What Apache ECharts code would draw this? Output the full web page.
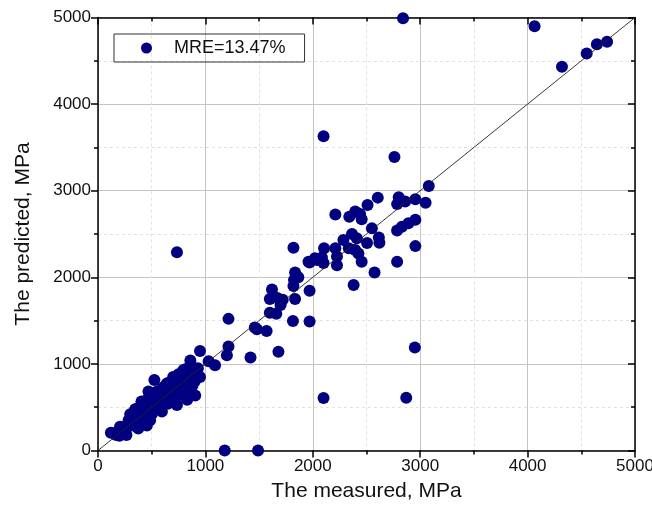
<!DOCTYPE html>
<html>
<head>
<meta charset="utf-8">
<script src="https://cdn.jsdelivr.net/npm/echarts@6/dist/echarts.min.js"></script>
<style>
html,body{margin:0;padding:0;background:#fff;}
#chart{width:652px;height:516px;}
</style>
</head>
<body>
<div id="chart"></div>
<script>
// Measured values (MPa)
const measured = [
  2840,4065,4320,4550,4645,4740,
  2100,2760,735,1180,1490,2100,2870,2950,
  3080,3050,2955,2800,2860,2785,2605,2510,2210,2340,2395,2440,2455,2955,2890,2830,2785,2550,2615,2620,2955,2785,2575,2455,2380,2505,2410,2365,2285,2210,2225,2335,2395,2425,2105,2020,1960,2100,2225,2040,2085,
  1215,1030,1090,1215,1200,1420,1460,1480,1570,1680,1600,1660,1600,1670,1700,1620,1720,1820,1835,1815,1970,1970,1835,1865,1825,1970,1820,
  950,860,525,905,455,120,265,950,
  795,735,640,470,405,345,285,205,
  830,735,595,485,375,
  150,180,200,230,250,280,300,320,340,360,380,400,410,420,440,450,470,480,500,500,520,540,550,560,580,600,600,620,640,650,660,680,700,700,720,740,750,760,780,800,800,820,840,850,870,880,900,920,760,680,620,560,430,380,330,480,520,580,640,700,900,930,860,720,660,550,440,350,260,170,
  300,350,400,450,500,550,600,650,700,750,820,350,420,500,580,650,700,780,850,880,200,240,620,560,760
];
// Predicted values (MPa)
const predicted = [
  4990,4900,4430,4585,4690,4720,
  3630,3390,2290,0,0,605,610,1190,
  3055,2860,2900,2925,2875,2845,2920,2835,2725,2700,2760,2730,2670,2665,2625,2585,2540,2565,2460,2400,2360,2180,2055,2180,1910,2395,2450,2500,2430,2335,2240,2335,2315,2275,2335,2220,2180,2165,2140,2200,2230,
  1520,1030,985,1200,1100,1075,1420,1400,1380,1140,1590,1580,1750,1760,1680,1860,1740,1900,1750,1495,1490,1845,2055,2000,1970,2170,2340,
  1150,1040,815,635,290,205,180,850,
  930,855,755,680,565,470,350,275,
  585,525,450,350,255,
  200,215,230,240,270,300,320,300,380,340,410,430,380,460,480,420,500,530,470,560,560,510,600,580,620,550,660,690,610,710,650,730,670,760,700,790,710,810,750,860,690,880,790,910,840,960,890,870,640,590,540,500,510,450,410,600,640,690,770,820,800,950,760,620,580,480,400,330,240,180,
  420,480,520,580,620,680,720,780,850,880,940,280,350,420,480,540,600,650,700,750,170,210,740,660,880
];
const seriesName = 'MRE=13.47%';
const xTitle = 'The measured, MPa';
const yTitle = 'The predicted, MPa';
const axisMin = 0, axisMax = 5000, axisStep = 1000;

const points = measured.map((m, i) => [m, predicted[i]]);
const FONT = 'Liberation Sans, Arial, sans-serif';

const chart = echarts.init(document.getElementById('chart'), null, {renderer: 'canvas'});

function mainAxis(name, gap, rotate) {
  return {
    type: 'value', min: axisMin, max: axisMax, interval: axisStep,
    name: name, nameLocation: 'middle', nameGap: gap, nameRotate: rotate,
    nameTextStyle: {fontFamily: FONT, fontSize: 21, color: '#111'},
    axisLine: {show: true, onZero: false, lineStyle: {color: '#000', width: 1.5}},
    axisTick: {show: true, inside: false, length: 7, lineStyle: {color: '#000', width: 1.5}},
    minorTick: {show: true, splitNumber: 2, length: 4, lineStyle: {color: '#000', width: 1.5}},
    axisLabel: {fontFamily: FONT, fontSize: 17, color: '#111', margin: 7, formatter: v => String(v)},
    splitLine: {show: true, lineStyle: {color: '#c4c4c4', width: 1}},
    minorSplitLine: {show: true, lineStyle: {color: '#e2e2e2', width: 1, type: [3, 3]}}
  };
}
function mirrorAxis(pos) {
  return {
    type: 'value', min: axisMin, max: axisMax, interval: axisStep, position: pos,
    axisLine: {show: true, onZero: false, lineStyle: {color: '#000', width: 1.5}},
    axisTick: {show: true, inside: true, length: 7, lineStyle: {color: '#000', width: 1.5}},
    minorTick: {show: true, splitNumber: 2, length: 4, lineStyle: {color: '#000', width: 1.5}},
    axisLabel: {show: false},
    splitLine: {show: false},
    minorSplitLine: {show: false}
  };
}

const xMain = mainAxis(xTitle, 30, 0); xMain.position = 'bottom';
const yMain = mainAxis(yTitle, 64, 90); yMain.position = 'left';

chart.setOption({
  animation: false,
  backgroundColor: '#fff',
  grid: {left: 98, right: 17, top: 17.5, bottom: 65.5, containLabel: false, outerBoundsMode: 'none'},
  xAxis: [xMain, mirrorAxis('top')],
  yAxis: [yMain, mirrorAxis('right')],
  legend: {
    left: 114, top: 34,
    data: [{name: seriesName, icon: 'circle'}],
    itemWidth: 11, itemHeight: 11,
    borderColor: '#333', borderWidth: 1, borderRadius: 0,
    padding: [5, 19, 5, 27],
    textStyle: {fontFamily: FONT, fontSize: 18, color: '#111', padding: [0, 0, 0, 17]}
  },
  series: [
    {
      name: seriesName, type: 'scatter', xAxisIndex: 0, yAxisIndex: 0,
      data: points, symbol: 'circle', symbolSize: 12,
      itemStyle: {color: '#000080', opacity: 1},
      clip: false, z: 2
    },
    {
      name: 'ideal', type: 'line', xAxisIndex: 0, yAxisIndex: 0,
      data: [[axisMin, axisMin], [axisMax, axisMax]],
      showSymbol: false, symbol: 'none', silent: true,
      lineStyle: {color: '#222', width: 0.9}, z: 3
    }
  ]
});
</script>
</body>
</html>
